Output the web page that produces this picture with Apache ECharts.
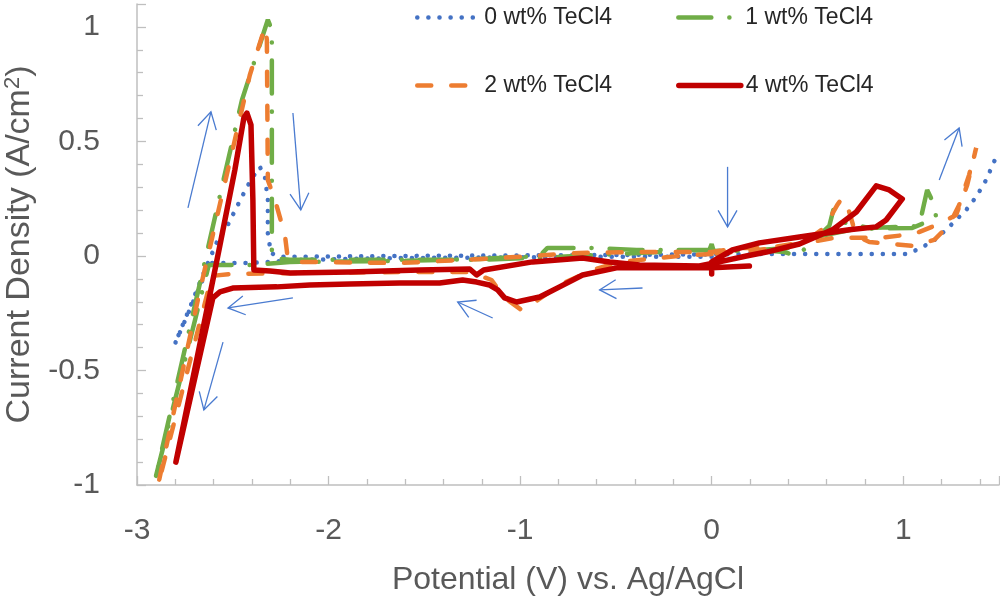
<!DOCTYPE html>
<html>
<head>
<meta charset="utf-8">
<script src="https://cdn.jsdelivr.net/npm/echarts@6/dist/echarts.min.js"></script>
<style>
  html, body { margin: 0; padding: 0; background: #fff; }
  #main { width: 1000px; height: 598px; }
</style>
</head>
<body>
<div id="main"></div>
<script>
// potential (V vs Ag/AgCl), current density (A/cm2)
const tecl0 = [
  [0.0, -0.004], [-0.585, -0.004], [-1.628, -0.009], [-2.15, -0.017], [-2.411, -0.031],
  [-2.619, -0.031], [-2.802, -0.384], [-2.708, -0.192], [-2.645, -0.061], [-2.578, 0.07],
  [-2.531, 0.127], [-2.479, 0.214], [-2.426, 0.301], [-2.395, 0.345], [-2.359, 0.389],
  [-2.333, 0.35], [-2.317, 0.245], [-2.317, 0.10], [-2.301, 0.013], [-2.254, -0.004],
  [-1.628, 0.0], [-0.585, 0.004], [0.458, 0.009], [1.016, 0.009], [1.068, 0.026],
  [1.151, 0.061], [1.224, 0.114], [1.276, 0.157], [1.329, 0.201], [1.381, 0.258],
  [1.433, 0.332], [1.485, 0.432]
];
const tecl1 = [
  [0.0, 0.026], [-0.184, 0.026], [-0.392, 0.026], [-0.627, 0.035], [-0.857, 0.035],
  [-0.898, 0.0], [-1.211, -0.013], [-1.628, -0.022], [-2.202, -0.026], [-2.395, -0.039],
  [-2.625, -0.039], [-2.906, -0.978], [-2.552, 0.319], [-2.452, 0.681], [-2.317, 1.031],
  [-2.296, 0.987], [-2.296, -0.009], [-2.202, -0.017], [-1.211, -0.017], [-0.794, -0.004],
  [-0.377, 0.013], [-0.012, 0.026], [0.0, 0.052], [0.01, 0.022], [0.249, 0.026],
  [0.38, 0.017], [0.442, 0.0], [0.51, 0.048], [0.614, 0.131], [0.635, 0.2],
  [0.682, 0.148], [0.823, 0.122], [1.083, 0.131], [1.125, 0.288], [1.162, 0.223],
  [1.172, 0.166], [1.047, 0.122], [0.755, 0.118], [0.546, 0.083], [0.405, 0.035],
  [0.249, 0.026], [0.0, 0.017]
];
const tecl2 = [
  [0.0, 0.009], [-0.168, 0.0], [-0.481, -0.026], [-0.622, -0.061], [-0.794, -0.127],
  [-0.924, -0.201], [-0.992, -0.236], [-1.081, -0.183], [-1.149, -0.105], [-1.263, -0.07],
  [-1.628, -0.07], [-2.15, -0.074], [-2.515, -0.079], [-2.609, -0.087], [-2.89, -1.0],
  [-2.671, -0.148], [-2.489, 0.507], [-2.411, 0.79], [-2.332, 1.0], [-2.322, 0.943],
  [-2.317, 0.332], [-2.28, 0.245], [-2.228, 0.092], [-2.213, -0.009], [-2.15, -0.026],
  [-1.628, -0.031], [-1.107, -0.009], [-0.69, 0.013], [-0.377, 0.017], [0.0, 0.017],
  [0.145, 0.035], [0.301, 0.035], [0.484, 0.061], [0.588, 0.122], [0.656, 0.223],
  [0.682, 0.253], [0.718, 0.192], [0.755, 0.087], [0.823, 0.061], [1.047, 0.044],
  [1.162, 0.07], [1.24, 0.135], [1.292, 0.223], [1.344, 0.354], [1.381, 0.472],
  [1.334, 0.31], [1.276, 0.179], [1.188, 0.14], [1.057, 0.096], [0.875, 0.079],
  [0.64, 0.079], [0.458, 0.052], [0.249, 0.026], [0.0, 0.009]
];
const tecl4 = [
  [0.197, -0.044], [0.0, -0.052], [-0.273, -0.052], [-0.497, -0.052], [-0.674, -0.083],
  [-0.794, -0.135], [-0.898, -0.179], [-1.018, -0.201], [-1.081, -0.183], [-1.117, -0.148],
  [-1.159, -0.127], [-1.227, -0.114], [-1.30, -0.105], [-1.42, -0.118], [-1.628, -0.118],
  [-1.889, -0.122], [-2.098, -0.127], [-2.27, -0.135], [-2.50, -0.14], [-2.567, -0.157],
  [-2.604, -0.183], [-2.797, -0.90], [-2.572, 0.026], [-2.489, 0.376], [-2.442, 0.603],
  [-2.426, 0.624], [-2.405, 0.572], [-2.395, 0.245], [-2.39, -0.061], [-2.306, -0.066],
  [-2.20, -0.074], [-1.889, -0.07], [-1.524, -0.061], [-1.263, -0.057], [-1.227, -0.083],
  [-1.19, -0.061], [-0.935, -0.026], [-0.674, -0.009], [-0.533, -0.026], [-0.377, -0.039],
  [-0.064, -0.044], [0.04, -0.026], [0.181, 0.0], [0.286, 0.017], [0.458, 0.052],
  [0.63, 0.114], [0.755, 0.192], [0.859, 0.306], [0.927, 0.288], [0.995, 0.249],
  [0.911, 0.157], [0.859, 0.127], [0.718, 0.114], [0.458, 0.083], [0.249, 0.057],
  [0.108, 0.026], [0.0, -0.026], [0.0, -0.079]
];
// scan direction arrows: [fromV, fromJ, toV, toJ]
const arrows = [
  [-2.734, 0.21, -2.614, 0.629],
  [-2.186, 0.624, -2.145, 0.201],
  [-2.186, -0.183, -2.525, -0.227],
  [-2.551, -0.376, -2.651, -0.672],
  [-1.143, -0.271, -1.326, -0.201],
  [-0.361, -0.14, -0.585, -0.148],
  [0.083, 0.389, 0.083, 0.127],
  [1.188, 0.332, 1.292, 0.559]
];
const names = ['0 wt% TeCl4', '1 wt% TeCl4', '2 wt% TeCl4', '4 wt% TeCl4'];

const font = 'Liberation Sans';
const axisGray = '#bfbfbf';
const styles = [
  { color: '#4472C4', width: 4.5, type: [0.1, 11], cap: 'round' },
  { color: '#70AD47', width: 4.5, type: [33, 18, 0.1, 18], cap: 'round' },
  { color: '#ED7D31', width: 4.5, type: [14, 20], cap: 'round' },
  { color: '#C00000', width: 5.5, type: 'solid', cap: 'round', join: 'round' }
];

function renderArrow(params, api) {
  const p1 = api.coord([api.value(0), api.value(1)]);
  const p2 = api.coord([api.value(2), api.value(3)]);
  const a = Math.atan2(p2[1] - p1[1], p2[0] - p1[0]);
  const h = 19, w = 0.52;
  const l = [p2[0] - h * Math.cos(a - w), p2[1] - h * Math.sin(a - w)];
  const r = [p2[0] - h * Math.cos(a + w), p2[1] - h * Math.sin(a + w)];
  const st = { stroke: '#4a7bd0', lineWidth: 1.3, fill: null };
  return {
    type: 'group',
    children: [
      { type: 'line', shape: { x1: p1[0], y1: p1[1], x2: p2[0], y2: p2[1] }, style: st },
      { type: 'polyline', shape: { points: [l, p2, r] }, style: st }
    ]
  };
}

const legendText = { fontFamily: font, fontSize: 23, color: '#262626' };
function legendItem(i) {
  return { name: names[i], lineStyle: styles[i], itemStyle: { opacity: 0 } };
}

var myChart = echarts.init(document.getElementById('main'));
myChart.setOption({
  animation: false,
  grid: { left: 137, right: 1, top: 4, bottom: 113, outerBoundsMode: 'none' },
  legend: [
    { left: 410, top: 1, itemWidth: 62, itemHeight: 16, itemGap: 64,
      itemStyle: { opacity: 0 },
      data: [legendItem(0), legendItem(1)], textStyle: legendText },
    { left: 410, top: 69, itemWidth: 62, itemHeight: 16, itemGap: 64,
      itemStyle: { opacity: 0 },
      data: [legendItem(2), legendItem(3)], textStyle: legendText }
  ],
  xAxis: {
    type: 'value', min: -3, max: 1.5, interval: 1,
    name: 'Potential (V) vs. Ag/AgCl', nameLocation: 'middle', nameGap: 79,
    nameTextStyle: { fontFamily: font, fontSize: 32, color: '#595959' },
    axisLine: { onZero: false, lineStyle: { color: axisGray, width: 1.5 } },
    axisTick: { inside: true, length: 9, lineStyle: { color: axisGray, width: 1.3 } },
    minorTick: { show: true, splitNumber: 5, length: 6, lineStyle: { color: axisGray, width: 1.3 } },
    splitLine: { show: false },
    axisLabel: { fontFamily: font, fontSize: 30, color: '#595959', margin: 31, showMaxLabel: false }
  },
  yAxis: {
    type: 'value', min: -1, max: 1.1, interval: 0.5,
    name: 'Current Density (A/cm{sup|2})', nameLocation: 'middle', nameGap: 99,
    nameTextStyle: {
      fontFamily: font, fontSize: 34, color: '#595959',
      rich: { sup: { fontFamily: font, fontSize: 22, color: '#595959', verticalAlign: 'top', padding: [0, 0, 14, 0] } }
    },
    axisLine: { onZero: false, lineStyle: { color: axisGray, width: 1.5 } },
    axisTick: { inside: true, length: 9, lineStyle: { color: axisGray, width: 1.3 } },
    minorTick: { show: true, splitNumber: 5, length: 6, lineStyle: { color: axisGray, width: 1.3 } },
    splitLine: { show: false },
    axisLabel: { fontFamily: font, fontSize: 30, color: '#595959', margin: 37, showMaxLabel: false }
  },
  series: [
    { name: names[0], type: 'line', data: tecl0, symbol: 'none', color: styles[0].color, lineStyle: styles[0] },
    { name: names[1], type: 'line', data: tecl1, symbol: 'none', color: styles[1].color, lineStyle: styles[1] },
    { name: names[2], type: 'line', data: tecl2, symbol: 'none', color: styles[2].color, lineStyle: styles[2] },
    { name: names[3], type: 'line', data: tecl4, symbol: 'none', color: styles[3].color, lineStyle: styles[3] },
    { type: 'custom', data: arrows, renderItem: renderArrow, silent: true, clip: false,
      encode: { x: [0, 2], y: [1, 3] }, z: 5 }
  ]
});
</script>
</body>
</html>
